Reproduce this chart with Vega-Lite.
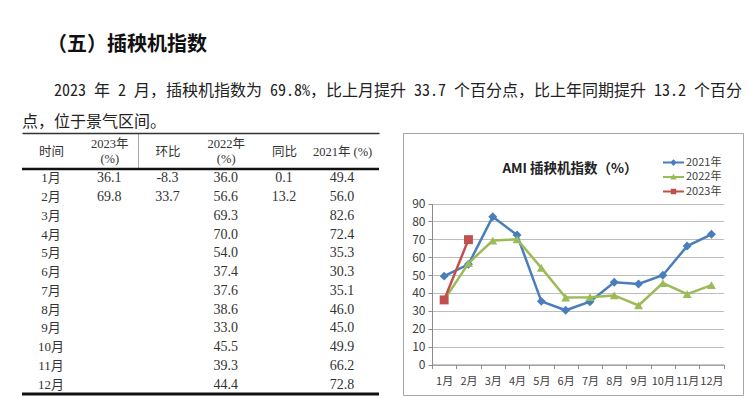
{
  "$schema": "https://vega.github.io/schema/vega-lite/v6.json",
  "background": "white",
  "padding": {"left": 20, "top": 34, "right": 2, "bottom": 0},
  "title": {
    "text": "\u200B\u3000\u2005（五）插秧机指数",
    "subtitle": ["\u200B\u3000\u30002023 年 2 月，插秧机指数为 69.8%，比上月提升 33.7 个百分点，比上年同期提升 13.2 个百分", "点，位于景气区间。"],
    "anchor": "start",
    "frame": "group",
    "font": "Noto Sans CJK SC",
    "fontSize": 20,
    "fontWeight": "bold",
    "color": "#111111",
    "subtitleFont": "Noto Sans Mono CJK SC, Noto Sans CJK SC",
    "subtitleFontSize": 16,
    "subtitleColor": "#222222",
    "subtitlePadding": 28,
    "subtitleLineHeight": 31,
    "offset": 3
  },
  "datasets": {
    "ami": [
      {"月": "1月", "2023年": 36.1, "环比": -8.3, "2022年": 36.0, "同比": 0.1, "2021年": 49.4},
      {"月": "2月", "2023年": 69.8, "环比": 33.7, "2022年": 56.6, "同比": 13.2, "2021年": 56.0},
      {"月": "3月", "2022年": 69.3, "2021年": 82.6},
      {"月": "4月", "2022年": 70.0, "2021年": 72.4},
      {"月": "5月", "2022年": 54.0, "2021年": 35.3},
      {"月": "6月", "2022年": 37.4, "2021年": 30.3},
      {"月": "7月", "2022年": 37.6, "2021年": 35.1},
      {"月": "8月", "2022年": 38.6, "2021年": 46.0},
      {"月": "9月", "2022年": 33.0, "2021年": 45.0},
      {"月": "10月", "2022年": 45.5, "2021年": 49.9},
      {"月": "11月", "2022年": 39.3, "2021年": 66.2},
      {"月": "12月", "2022年": 44.4, "2021年": 72.8}
    ]
  },
  "spacing": 21,
  "hconcat": [
    {
      "width": 357,
      "height": 261,
      "view": {"stroke": null},
      "data": {"name": "ami"},
      "layer": [
        {
          "transform": [
            {"fold": ["2023年", "环比", "2022年", "同比", "2021年"], "as": ["col", "val"]},
            {"filter": "isValid(datum.val)"}
          ],
          "mark": {"type": "text", "font": "Liberation Serif, Noto Sans CJK SC", "fontSize": 14, "color": "#333333"},
          "encoding": {
            "x": {
              "field": "col",
              "type": "nominal",
              "bandPosition": 0.5,
              "scale": {"type": "band", "domain": ["时间", "2023年", "环比", "2022年", "同比", "2021年"], "paddingInner": 0, "paddingOuter": 0.067, "align": 0},
              "axis": {
                "orient": "top",
                "title": null,
                "domain": true,
                "domainColor": "#333333",
                "domainWidth": 1.5,
                "ticks": true,
                "tickBand": "extent",
                "tickSize": -36,
                "tickColor": "#aaaaaa",
                "tickWidth": 1,
                "tickOpacity": {"condition": {"test": "datum.value === '2023年'", "value": 1}, "value": 0},
                "labelExpr": "datum.value === '2023年' ? ['2023年', '(%)'] : datum.value === '2022年' ? ['2022年', '(%)'] : datum.value === '2021年' ? '2021年 (%)' : datum.value",
                "labelBaseline": {"condition": {"test": "datum.value === '2023年' || datum.value === '2022年'", "value": "line-bottom"}, "value": "middle"},
                "labelPadding": 18,
                "labelFont": "Liberation Serif, Noto Sans CJK SC",
                "labelFontSize": 12.5,
                "labelColor": "#333333",
                "labelLineHeight": 15,
                "labelAngle": 0,
                "labelOverlap": false,
                "labelBound": false
              }
            },
            "y": {
              "field": "月",
              "type": "nominal",
              "bandPosition": 0.5,
              "scale": {"type": "band", "domain": ["1月", "2月", "3月", "4月", "5月", "6月", "7月", "8月", "9月", "10月", "11月", "12月"], "paddingInner": 0, "paddingOuter": 0.96, "align": 1},
              "axis": null
            },
            "text": {"field": "val", "type": "quantitative", "format": ".1f"}
          }
        },
        {
          "mark": {"type": "text", "font": "Liberation Serif, Noto Sans CJK SC", "fontSize": 13, "color": "#333333"},
          "encoding": {
            "x": {"datum": "时间", "type": "nominal", "bandPosition": 0.5},
            "y": {"field": "月", "type": "nominal", "bandPosition": 0.5},
            "text": {"field": "月", "type": "nominal"}
          }
        },
        {
          "data": {"values": [{}]},
          "mark": {"type": "rule", "color": "#111111", "strokeWidth": 2.5},
          "encoding": {"y": {"datum": "1月", "type": "nominal", "bandPosition": 0}}
        },
        {
          "data": {"values": [{}]},
          "mark": {"type": "rule", "color": "#111111", "strokeWidth": 3},
          "encoding": {"y": {"datum": "12月", "type": "nominal", "bandPosition": 1}}
        }
      ]
    },
    {
      "width": 340,
      "height": 262,
      "view": {"stroke": "#a6a6a6", "strokeWidth": 1},
      "data": {"name": "ami"},
      "transform": [
        {"fold": ["2021年", "2022年", "2023年"], "as": ["series", "value"]},
        {"filter": "isValid(datum.value)"}
      ],
      "title": {
        "text": "AMI 插秧机指数（%）",
        "anchor": "middle",
        "frame": "group",
        "dx": -3,
        "offset": -42,
        "font": "Noto Sans CJK SC",
        "fontSize": 13.5,
        "fontWeight": "bold",
        "color": "#222222"
      },
      "encoding": {
        "x": {
          "field": "月",
          "type": "nominal",
          "bandPosition": 0.5,
          "scale": {"type": "band", "domain": ["1月", "2月", "3月", "4月", "5月", "6月", "7月", "8月", "9月", "10月", "11月", "12月"], "range": [29, 320.6], "paddingInner": 0, "paddingOuter": 0},
          "axis": {
            "orient": "bottom",
            "offset": -30.5,
            "title": null,
            "grid": false,
            "domain": true,
            "domainColor": "#8c8c8c",
            "ticks": true,
            "tickBand": "extent",
            "tickSize": 4,
            "tickColor": "#8c8c8c",
            "labelAngle": 0,
            "labelPadding": 7,
            "labelFontSize": 11,
            "labelColor": "#404040",
            "labelOverlap": false
          }
        },
        "y": {
          "field": "value",
          "type": "quantitative",
          "scale": {"domain": [0, 90], "range": [231.5, 70.5], "nice": false, "zero": false},
          "axis": {
            "orient": "left",
            "offset": -29,
            "values": [0, 10, 20, 30, 40, 50, 60, 70, 80, 90],
            "title": null,
            "grid": true,
            "gridColor": "#bdbdbd",
            "gridWidth": 1,
            "domain": true,
            "domainColor": "#8c8c8c",
            "ticks": true,
            "tickSize": 4,
            "tickColor": "#8c8c8c",
            "labelPadding": 3,
            "labelFontSize": 12,
            "labelColor": "#404040"
          }
        }
      },
      "layer": [
        {
          "mark": {"type": "line", "strokeWidth": 2.5},
          "encoding": {
            "color": {"field": "series", "type": "nominal", "scale": {"domain": ["2021年", "2022年", "2023年"], "range": ["#4A7EBB", "#9BBB59", "#C0504D"]}, "legend": null}
          }
        },
        {
          "mark": {"type": "point", "filled": true, "opacity": 1, "size": 80},
          "encoding": {
            "color": {"field": "series", "type": "nominal", "scale": {"domain": ["2021年", "2022年", "2023年"], "range": ["#4A7EBB", "#9BBB59", "#C0504D"]}, "legend": null},
            "shape": {"field": "series", "type": "nominal", "scale": {"domain": ["2021年", "2022年", "2023年"], "range": ["diamond", "triangle-up", "square"]}, "legend": null}
          }
        },
        {
          "transform": [{"filter": "false"}],
          "mark": {"type": "point", "filled": true, "opacity": 1},
          "encoding": {
            "color": {
              "field": "series",
              "type": "nominal",
              "scale": {"domain": ["2021年", "2022年", "2023年"], "range": ["#4A7EBB", "#9BBB59", "#C0504D"]},
              "legend": {
                "orient": "none",
                "legendX": 262,
                "legendY": 21,
                "title": null,
                "padding": 0,
                "labelFont": "Noto Sans CJK SC",
                "labelFontSize": 11,
                "labelColor": "#404040",
                "labelOffset": 4,
                "symbolSize": 225,
                "rowPadding": 0.5
              }
            },
            "shape": {
              "field": "series",
              "type": "nominal",
              "scale": {"domain": ["2021年", "2022年", "2023年"], "range": ["M-1.4,-0.13H1.4V0.13H-1.4ZM0,-0.45L0.45,0L0,0.45L-0.45,0Z", "M-1.4,-0.13H1.4V0.13H-1.4ZM0,-0.42L0.45,0.33L-0.45,0.33Z", "M-1.4,-0.13H1.4V0.13H-1.4ZM-0.36,-0.36H0.36V0.36H-0.36Z"]},
              "legend": {
                "orient": "none",
                "legendX": 262,
                "legendY": 21,
                "title": null,
                "padding": 0,
                "labelFont": "Noto Sans CJK SC",
                "labelFontSize": 11,
                "labelColor": "#404040",
                "labelOffset": 4,
                "symbolSize": 225,
                "rowPadding": 0.5
              }
            }
          }
        }
      ],
      "resolve": {"scale": {"color": "independent", "shape": "independent"}}
    }
  ],
  "config": {
    "font": "Noto Sans CJK SC",
    "locale": {"number": {"decimal": ".", "thousands": ",", "grouping": [3], "currency": ["", ""], "minus": "-"}}
  }
}
